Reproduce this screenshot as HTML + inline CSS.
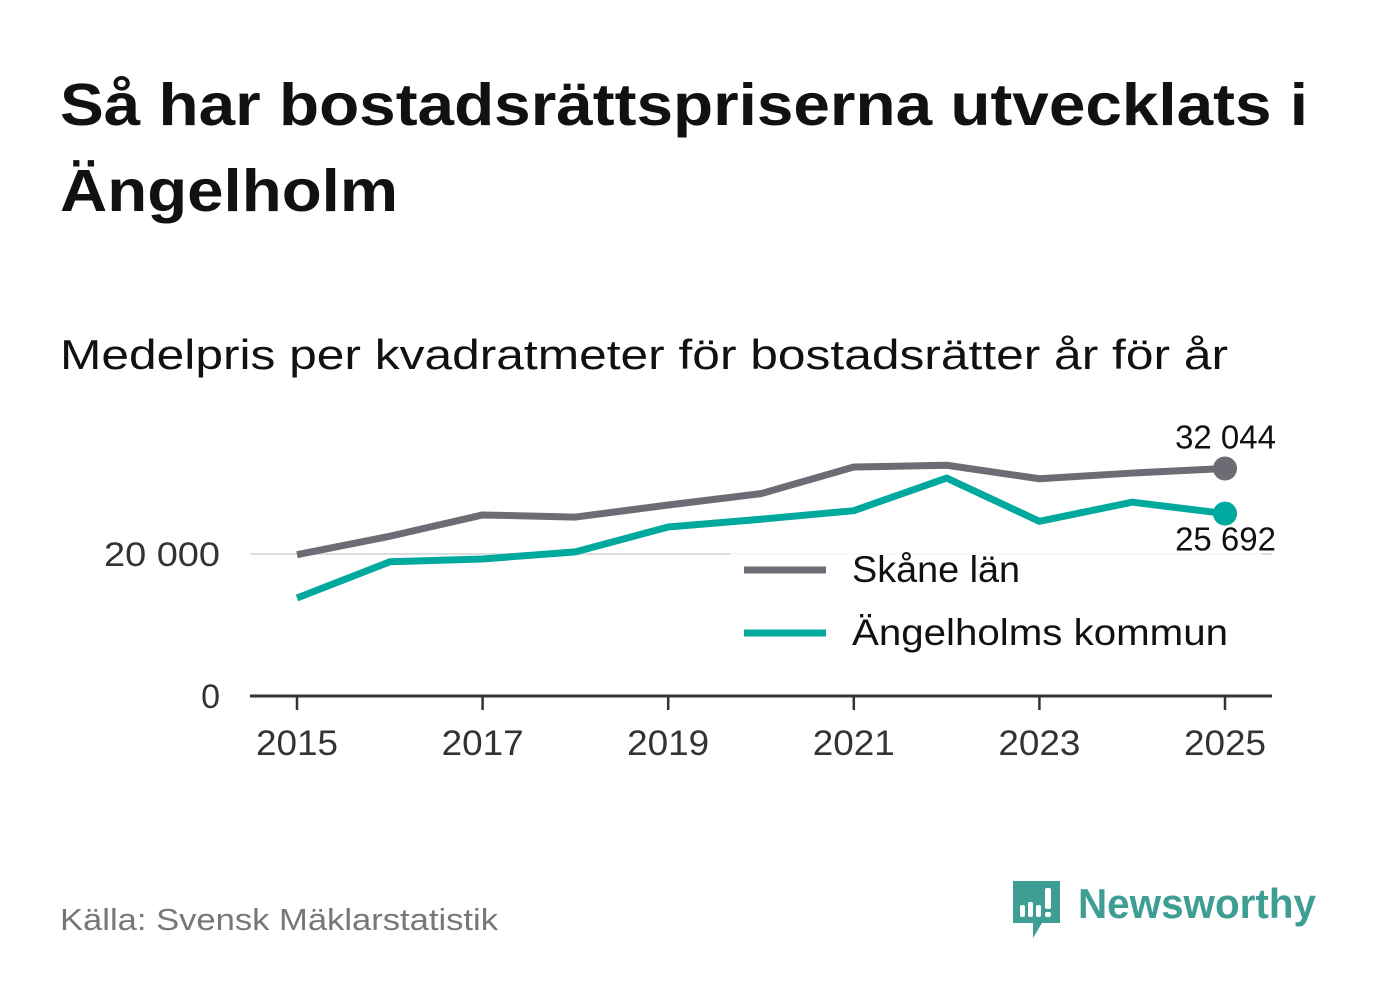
<!DOCTYPE html>
<html><head><meta charset="utf-8"><style>
body{margin:0;background:#fff;width:1382px;height:999px;overflow:hidden}
</style></head><body>
<svg width="1382" height="999" style="font-family:'Liberation Sans','DejaVu Sans',sans-serif">
<text x="60" y="125" font-size="59" font-weight="bold" fill="#111" textLength="1248" lengthAdjust="spacingAndGlyphs">Så har bostadsrättspriserna utvecklats i</text>
<text x="60" y="211" font-size="59" font-weight="bold" fill="#111" textLength="338" lengthAdjust="spacingAndGlyphs">Ängelholm</text>
<text x="60" y="369" font-size="42" fill="#111" textLength="1168" lengthAdjust="spacingAndGlyphs">Medelpris per kvadratmeter för bostadsrätter år för år</text>
<g id="plot"></g>
<text x="60" y="930" font-size="31" fill="#777" textLength="438" lengthAdjust="spacingAndGlyphs">Källa: Svensk Mäklarstatistik</text>
<g>
<path d="M1013 881h47v42h-18l-9 15v-15h-20z" fill="#3f9e94"/>
<rect x="1020" y="905" width="5" height="12" rx="2" fill="#fff"/>
<rect x="1028" y="902" width="5" height="15" rx="2" fill="#fff"/>
<rect x="1036" y="905" width="5" height="12" rx="2" fill="#fff"/>
<rect x="1045" y="888" width="6" height="21" rx="2" fill="#fff"/>
<rect x="1045" y="912" width="6" height="5" rx="2" fill="#fff"/>
<text x="1078" y="918" font-size="42" font-weight="bold" fill="#3f9e94" textLength="238" lengthAdjust="spacingAndGlyphs">Newsworthy</text>
</g>
</svg>
<script>
const years=[2015,2016,2017,2018,2019,2020,2021,2022,2023,2024,2025];
const skane=[19900,22500,25500,25200,26900,28500,32250,32500,30600,31400,32044];
const angel=[13800,18900,19300,20300,23800,24900,26100,30700,24600,27300,25692];
const yTicks=[0,20000];
const yTickLabels=["0","20 000"];
const xTicks=[2015,2017,2019,2021,2023,2025];
const NS="http://www.w3.org/2000/svg";
const X=y=>297+(y-2015)*92.8;
const Y=v=>696-v*0.0071;
const g=document.getElementById('plot');
function mk(t,a,txt){const e=document.createElementNS(NS,t);for(const k in a)e.setAttribute(k,a[k]);if(txt!==undefined)e.textContent=txt;g.appendChild(e);return e;}
yTicks.forEach((v,i)=>{
 if(v>0){const l=mk('line',{x1:250,x2:1272,y1:Y(v),y2:Y(v),stroke:'#ddd','stroke-width':2});
 
 }
 const t=mk('text',{x:220,y:Y(v)+12,'font-size':34,fill:'#333','text-anchor':'end'},yTickLabels[i]);
 if(v>0){t.setAttribute('textLength',116);t.setAttribute('lengthAdjust','spacingAndGlyphs');}
 
 
});
const ax=mk('line',{x1:250,x2:1272,y1:696,y2:696,stroke:'#333','stroke-width':3});


xTicks.forEach(yr=>{
 const tk=mk('line',{x1:X(yr),x2:X(yr),y1:696,y2:710,stroke:'#333','stroke-width':2.5});
 
 
 const t=mk('text',{x:X(yr),y:755,'font-size':35,fill:'#333','text-anchor':'middle',textLength:82,lengthAdjust:'spacingAndGlyphs'},yr);
 
 
});
function series(d,c,name){
 const p=mk('polyline',{points:d.map((v,i)=>X(years[i])+','+Y(v)).join(' '),fill:'none',stroke:c,'stroke-width':7,'stroke-linejoin':'round'});
 
 
 const n=d.length-1;
 const c1=mk('circle',{cx:X(years[n]),cy:Y(d[n]),r:12,fill:c});
 
 
}
series(skane,'#6d6c74','skane');
series(angel,'#00a99d','angelholm');
const fmt=v=>String(v).replace(/\B(?=(\d{3})+(?!\d))/g,' ');
const l1=mk('text',{x:1276,y:Y(skane[10])-20,'font-size':33,fill:'#111','text-anchor':'end'},fmt(skane[10]));


const l2=mk('text',{x:1276,y:Y(angel[10])+37,'font-size':33,fill:'#111','text-anchor':'end'},fmt(angel[10]));


const bg=mk('rect',{x:730,y:551,width:532,height:110,fill:'#fff','fill-opacity':0.8});


[['Skåne län','#6d6c74',570,168],['Ängelholms kommun','#00a99d',633,376]].forEach(([n,c,y,w])=>{
 const s=mk('line',{x1:744,x2:826,y1:y,y2:y,stroke:c,'stroke-width':7});
 
 
 const t=mk('text',{x:852,y:y+12,'font-size':37,fill:'#111',textLength:w,lengthAdjust:'spacingAndGlyphs'},n);
 
 
});
</script>
</body></html>
